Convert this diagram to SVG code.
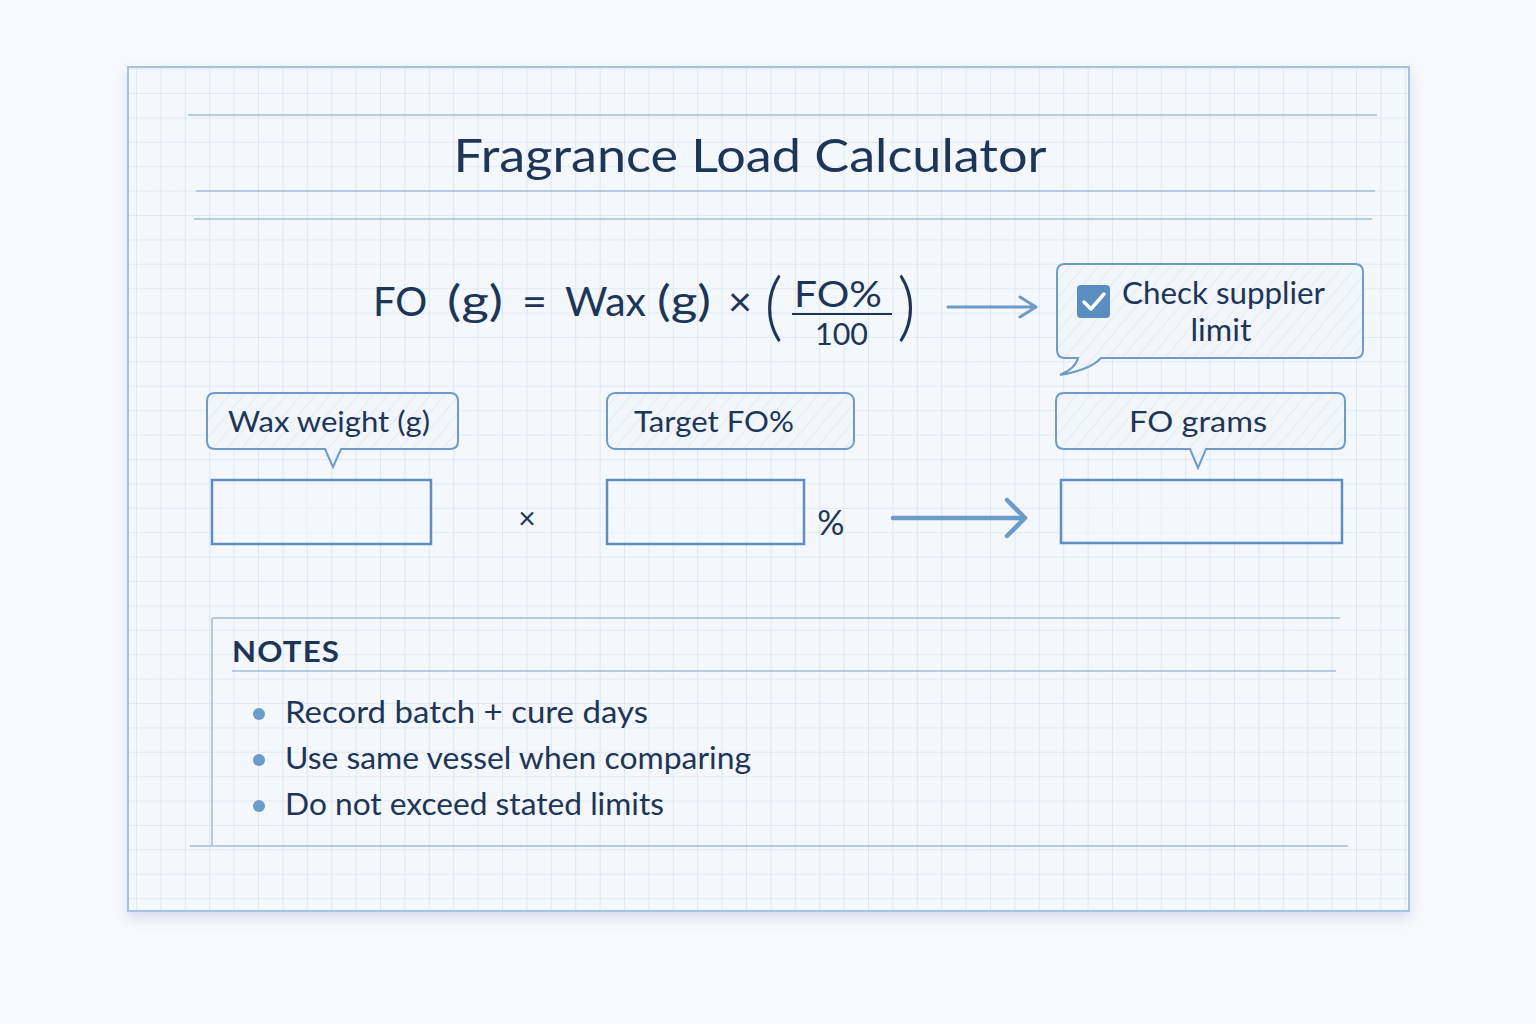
<svg xmlns="http://www.w3.org/2000/svg" width="1536" height="1024" viewBox="0 0 1536 1024">
<defs>
<style>
.t{font-family:Lato,"Noto Sans","Liberation Sans",sans-serif;fill:#1d3557}
.rule{stroke:#a3bddb;stroke-width:1.6;fill:none}
.lbl{fill:url(#hatch);stroke:#6f9bc9;stroke-width:2}
.inp{fill:#f4f7fc;fill-opacity:.5;stroke:#5f8fc2;stroke-width:2.5}
.arr{stroke:#6b9bc9;fill:none;stroke-linecap:round;stroke-linejoin:round}
.bul{fill:#6b9cca}
</style>
<pattern id="grid" x="136" y="93" width="24.4" height="24.4" patternUnits="userSpaceOnUse">
<path d="M0 0V24.4M0 0H24.4" stroke="#cfdef0" stroke-width="1.2" fill="none"/>
</pattern>
<pattern id="hatch" width="11" height="11" patternUnits="userSpaceOnUse" patternTransform="rotate(40)">
<rect width="11" height="11" fill="#f2f6fb"/>
<line x1="0" y1="0" x2="0" y2="11" stroke="#cfdcec" stroke-width="0.9"/>
</pattern>
<filter id="sh" x="-5%" y="-5%" width="110%" height="115%">
<feDropShadow dx="0" dy="6" stdDeviation="7" flood-color="#7f9cc4" flood-opacity="0.3"/>
</filter>
</defs>
<rect width="1536" height="1024" fill="#f8f9fc"/>
<g id="sheet">
<rect x="128" y="67" width="1281" height="844" fill="#f4f7fb" stroke="#a8c1de" stroke-width="2" filter="url(#sh)"/>
<rect x="129" y="68" width="1279" height="842" fill="url(#grid)"/>
</g>
<g id="title">
<line class="rule" x1="188" y1="115" x2="1377" y2="115"/>
<text class="t" x="750" y="172" font-size="47" text-anchor="middle" textLength="593" lengthAdjust="spacingAndGlyphs" fill="#1b3152">Fragrance Load Calculator</text>
<line class="rule" x1="196" y1="191" x2="1375" y2="191"/>
<line class="rule" x1="194" y1="219" x2="1372" y2="219"/>
</g>
<g id="formula">
<text class="t" x="373" y="316" font-size="40">FO</text>
<text class="t" x="447" y="316" font-size="42" textLength="56" lengthAdjust="spacingAndGlyphs">(g)</text>
<text class="t" x="522" y="316" font-size="40" textLength="25" lengthAdjust="spacingAndGlyphs">=</text>
<text class="t" x="565" y="316" font-size="40" textLength="81" lengthAdjust="spacingAndGlyphs">Wax</text>
<text class="t" x="657" y="316" font-size="42" textLength="54" lengthAdjust="spacingAndGlyphs">(g)</text>
<text class="t" x="728" y="316" font-size="40" textLength="24" lengthAdjust="spacingAndGlyphs">×</text>
<text class="t" x="764" y="332" font-size="74" font-weight="300">(</text>
<text class="t" x="794" y="307" font-size="37" textLength="88" lengthAdjust="spacingAndGlyphs">FO%</text>
<line x1="792" y1="314" x2="892" y2="314" stroke="#1d3557" stroke-width="2"/>
<text class="t" x="815" y="345" font-size="31" textLength="53" lengthAdjust="spacingAndGlyphs">100</text>
<text class="t" x="897" y="332" font-size="74" font-weight="300">)</text>
</g>
<g id="connectors">
<path class="arr" stroke-width="3" d="M948 307H1036M1020 297L1036 307L1020 317"/>
<path class="arr" stroke-width="4.5" d="M893 518H1025M1007 500L1025 518L1007 536"/>
</g>
<g id="check-supplier">
<path class="lbl" d="M1065 264H1355Q1363 264 1363 272V350Q1363 358 1355 358H1101Q1090 370 1060 375Q1076 368 1078 358H1065Q1057 358 1057 350V272Q1057 264 1065 264Z"/>
<rect x="1077" y="285" width="33" height="33" rx="4" fill="#5b8dc0"/>
<path d="M1084 302L1091 309L1104 294" stroke="#fff" stroke-width="3.5" fill="none" stroke-linecap="round" stroke-linejoin="round"/>
<text class="t" x="1122" y="304" font-size="30" textLength="203" lengthAdjust="spacingAndGlyphs">Check supplier</text>
<text class="t" x="1221" y="341" font-size="30" text-anchor="middle" textLength="61" lengthAdjust="spacingAndGlyphs">limit</text>
</g>
<g id="wax-weight">
<path class="lbl" d="M215 393H450Q458 393 458 401V441Q458 449 450 449H341L333 467L325 449H215Q207 449 207 441V401Q207 393 215 393Z"/>
<text class="t" x="228" y="432" font-size="29" textLength="202" lengthAdjust="spacingAndGlyphs">Wax weight (g)</text>
<rect class="inp" x="212" y="480" width="219" height="64"/>
</g>
<g id="times">
<text class="t" x="527" y="529" font-size="30" text-anchor="middle" fill="#2c4a6e">×</text>
</g>
<g id="target-fo">
<rect class="lbl" x="607" y="393" width="247" height="56" rx="8"/>
<text class="t" x="634" y="432" font-size="29" textLength="160" lengthAdjust="spacingAndGlyphs">Target FO%</text>
<rect class="inp" x="607" y="480" width="197" height="64"/>
<text class="t" x="831" y="535" font-size="34" text-anchor="middle">%</text>
</g>
<g id="fo-grams">
<path class="lbl" d="M1064 393H1337Q1345 393 1345 401V441Q1345 449 1337 449H1206L1198 468L1190 449H1064Q1056 449 1056 441V401Q1056 393 1064 393Z"/>
<text class="t" x="1198" y="432" font-size="29" text-anchor="middle" textLength="138" lengthAdjust="spacingAndGlyphs">FO grams</text>
<rect class="inp" x="1061" y="480" width="281" height="63"/>
</g>
<g id="notes">
<line class="rule" x1="212" y1="618" x2="1340" y2="618"/>
<line class="rule" x1="212" y1="618" x2="212" y2="845"/>
<text class="t" x="232" y="662" font-size="28" font-weight="bold" letter-spacing="1" textLength="108" lengthAdjust="spacingAndGlyphs">NOTES</text>
<line class="rule" x1="232" y1="671" x2="1336" y2="671"/>
<circle class="bul" cx="259" cy="714" r="6"/>
<text class="t" x="285" y="723" font-size="30" textLength="363" lengthAdjust="spacingAndGlyphs">Record batch + cure days</text>
<circle class="bul" cx="259" cy="760" r="6"/>
<text class="t" x="285" y="769" font-size="30" textLength="466" lengthAdjust="spacingAndGlyphs">Use same vessel when comparing</text>
<circle class="bul" cx="259" cy="806" r="6"/>
<text class="t" x="285" y="815" font-size="30" textLength="379" lengthAdjust="spacingAndGlyphs">Do not exceed stated limits</text>
<line class="rule" x1="190" y1="846" x2="1348" y2="846"/>
</g>
</svg>
